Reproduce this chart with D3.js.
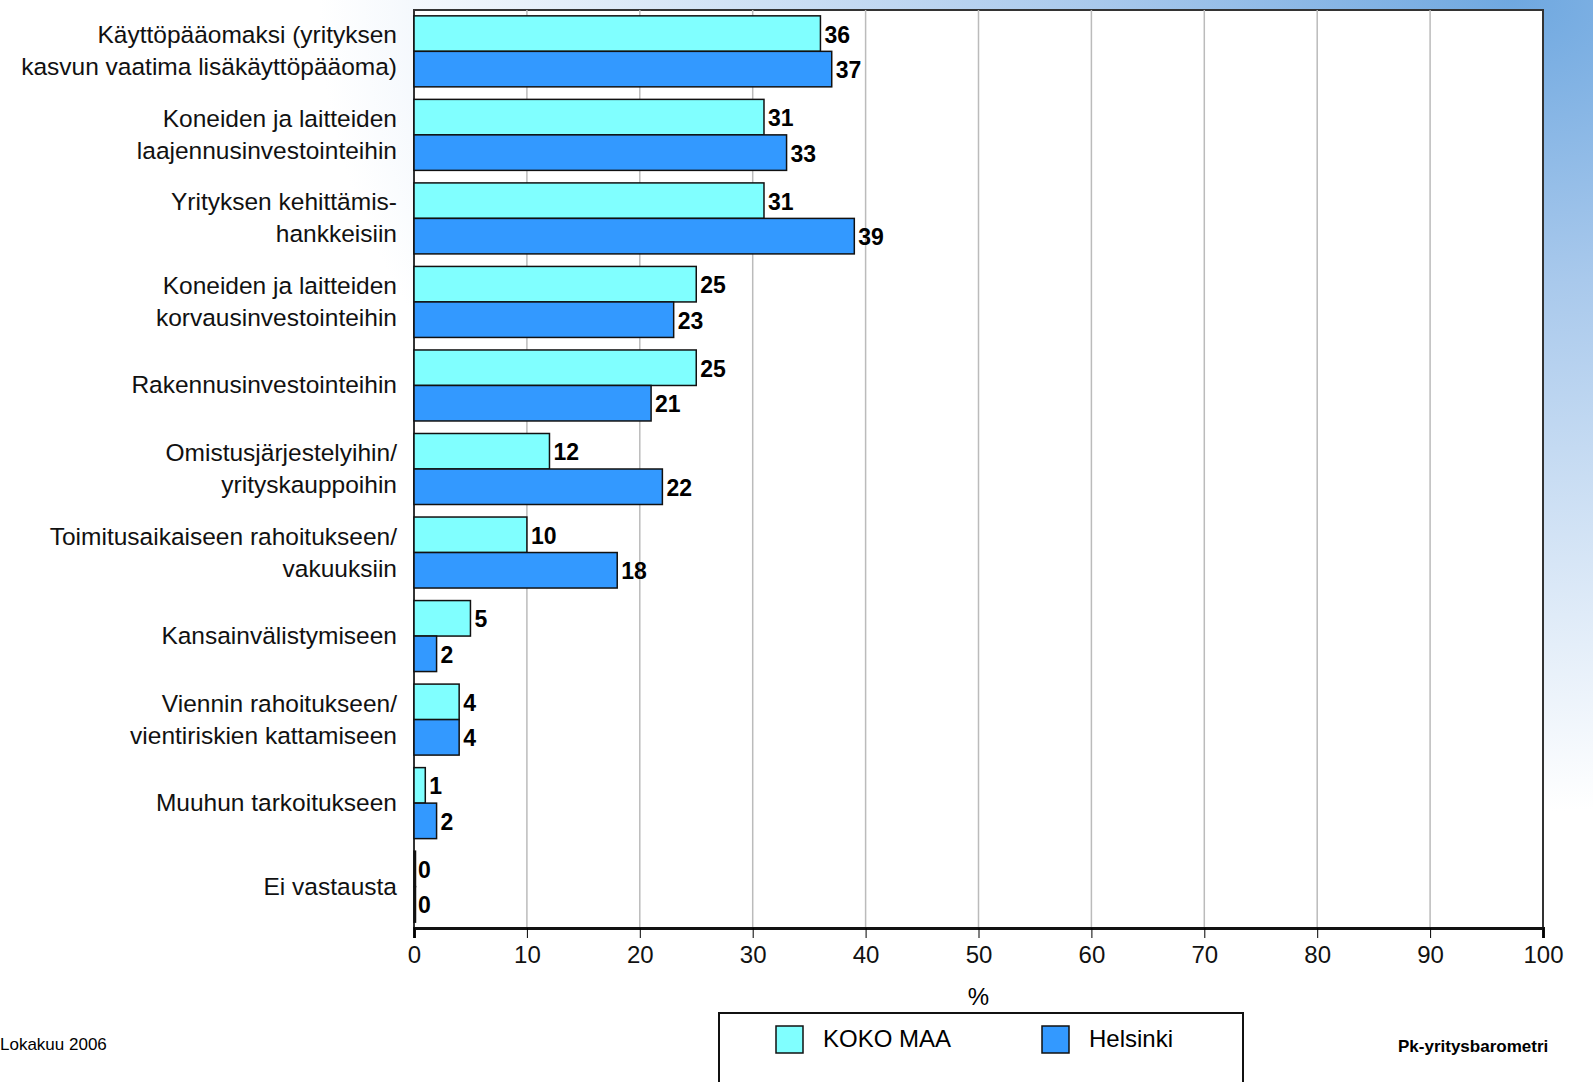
<!DOCTYPE html>
<html><head><meta charset="utf-8">
<script src="https://cdn.jsdelivr.net/npm/d3@7"></script>
<style>body{margin:0;background:#fff}svg{font-family:"Liberation Sans",Arial,sans-serif;display:block}</style>
</head><body>
<svg id="c" width="1593" height="1082"></svg>
<script>
var categories = [
  ["Käyttöpääomaksi (yrityksen", "kasvun vaatima lisäkäyttöpääoma)"],
  ["Koneiden ja laitteiden", "laajennusinvestointeihin"],
  ["Yrityksen kehittämis-", "hankkeisiin"],
  ["Koneiden ja laitteiden", "korvausinvestointeihin"],
  ["Rakennusinvestointeihin"],
  ["Omistusjärjestelyihin/", "yrityskauppoihin"],
  ["Toimitusaikaiseen rahoitukseen/", "vakuuksiin"],
  ["Kansainvälistymiseen"],
  ["Viennin rahoitukseen/", "vientiriskien kattamiseen"],
  ["Muuhun tarkoitukseen"],
  ["Ei vastausta"]
];
var kokoMaa = [36, 31, 31, 25, 25, 12, 10, 5, 4, 1, 0];
var helsinki = [37, 33, 39, 23, 21, 22, 18, 2, 4, 2, 0];
var seriesNames = ["KOKO MAA", "Helsinki"];
var colors = ["#80ffff", "#3399ff"];

var svg = d3.select("#c");
var defs = svg.append("defs");
var gr = defs.append("radialGradient").attr("id", "bg").attr("cx", "0.95").attr("cy", "0").attr("r", "0.75");
gr.append("stop").attr("offset", "0").attr("stop-color", "#6fa8e0");
gr.append("stop").attr("offset", "0.35").attr("stop-color", "#a9c9ec");
gr.append("stop").attr("offset", "1").attr("stop-color", "#ffffff");
svg.append("rect").attr("width", 1593).attr("height", 1082).attr("fill", "url(#bg)");

var pl = 414, pr = 1543, pt = 10, pb = 928;
var x = d3.scaleLinear().domain([0, 100]).range([pl, pr]);
var y = d3.scaleBand().domain(d3.range(categories.length)).range([pt, pb]).paddingInner(0.15).paddingOuter(0.07);

svg.append("rect").attr("x", pl).attr("y", pt).attr("width", pr - pl).attr("height", pb - pt)
  .attr("fill", "#fff").attr("stroke", "#333").attr("stroke-width", 2);

svg.append("g").selectAll("line").data(d3.range(10, 100, 10)).enter().append("line")
  .attr("x1", d => x(d)).attr("x2", d => x(d)).attr("y1", pt).attr("y2", pb)
  .attr("stroke", "#bbb").attr("stroke-width", 1.5);

var ax = svg.append("g").attr("transform", "translate(0," + pb + ")")
  .call(d3.axisBottom(x).tickValues(d3.range(0, 101, 10)).tickSize(10).tickPadding(8));
ax.select(".domain").attr("stroke", "#111").attr("stroke-width", 3);
ax.selectAll("text").style("font-size", "24px").attr("fill", "#111");
svg.append("text").attr("x", x(50)).attr("y", 1005).attr("text-anchor", "middle").style("font-size", "24px").text("%");

var bh = y.bandwidth() / 2;
[kokoMaa, helsinki].forEach(function (vals, s) {
  var g = svg.append("g");
  g.selectAll("rect").data(vals).enter().append("rect")
    .attr("x", pl).attr("y", (d, i) => y(i) + s * bh)
    .attr("width", d => Math.max(x(d) - pl, 1.5)).attr("height", bh)
    .attr("fill", colors[s]).attr("stroke", "#111").attr("stroke-width", 1.5);
  g.selectAll("text").data(vals).enter().append("text")
    .attr("x", d => x(d) + 4).attr("y", (d, i) => y(i) + s * bh + bh / 2 + 9)
    .style("font-size", "23px").style("font-weight", "bold").text(d => d);
});

var lab = svg.append("g");
categories.forEach(function (lines, i) {
  var cy = y(i) + y.bandwidth() / 2;
  lines.forEach(function (t, j) {
    lab.append("text").attr("x", 397).attr("y", cy + (j - (lines.length - 1) / 2) * 32 + 8)
      .attr("text-anchor", "end").style("font-size", "24.5px").attr("fill", "#111").text(t);
  });
});

svg.append("rect").attr("x", 719).attr("y", 1013).attr("width", 524).attr("height", 80)
  .attr("fill", "#fff").attr("stroke", "#111").attr("stroke-width", 2);
seriesNames.forEach(function (n, i) {
  var lx = 776 + i * 266;
  svg.append("rect").attr("x", lx).attr("y", 1026).attr("width", 27).attr("height", 27)
    .attr("fill", colors[i]).attr("stroke", "#111").attr("stroke-width", 1.5);
  svg.append("text").attr("x", lx + 47).attr("y", 1047).style("font-size", "24px").text(n);
});

svg.append("text").attr("x", 0).attr("y", 1050).style("font-size", "17px").text("Lokakuu 2006");
svg.append("text").attr("x", 1398).attr("y", 1052).style("font-size", "17px").style("font-weight", "bold").text("Pk-yritysbarometri");
</script>
</body></html>
